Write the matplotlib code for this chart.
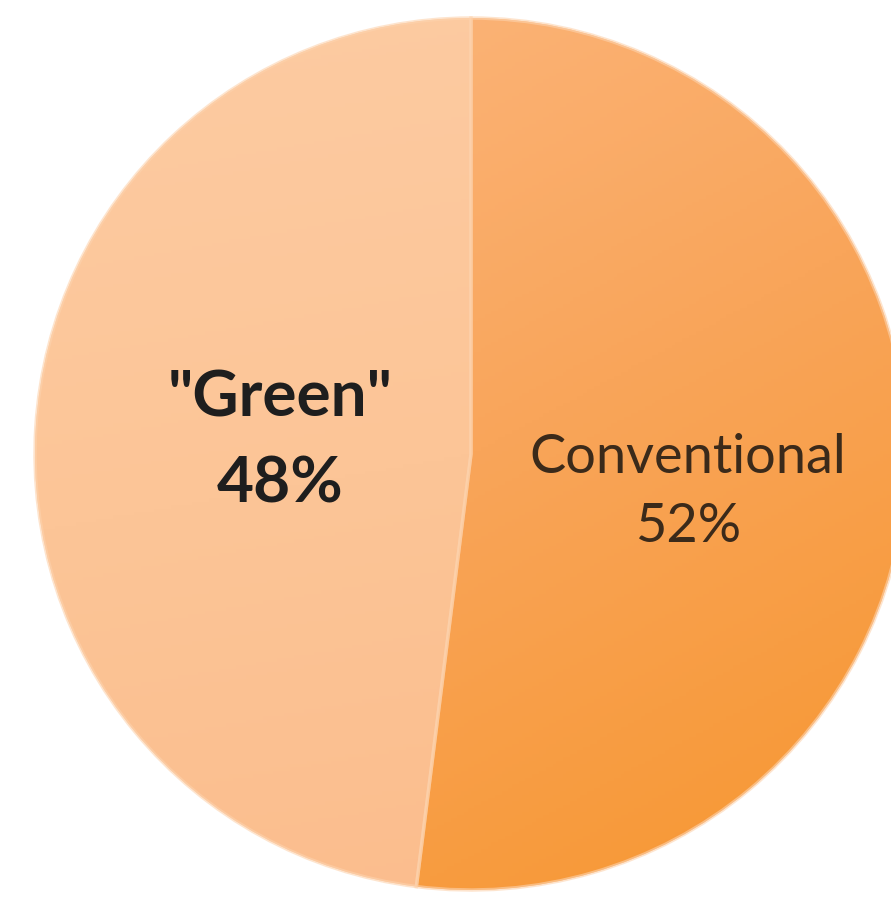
import numpy as np
import matplotlib
matplotlib.use("Agg")
import matplotlib.pyplot as plt
from matplotlib.colors import LinearSegmentedColormap

# Share of projects
categories = ["Conventional", '"Green"']
shares = [52, 48]
label_weights = ["normal", "bold"]

W, H = 891, 902
fig = plt.figure(figsize=(W / 100, H / 100), dpi=100)
ax = fig.add_axes([0, 0, 1, 1])

cx, cy, r = 471, 448, 436

wedges, _ = ax.pie(shares, startangle=90, counterclock=False,
                   colors=["#F9A862", "#FCC69A"], radius=r, center=(cx, cy),
                   frame=True, wedgeprops=dict(linewidth=0))

# Soft vertical shading inside each slice
gradients = [
    LinearSegmentedColormap.from_list("conv", ["#F7962F", "#F9A55A", "#FCB983"]),
    LinearSegmentedColormap.from_list("green", ["#FBBC8C", "#FCC597", "#FCCBA2"]),
]
yy = np.linspace(0, 1, 256).reshape(-1, 1) * np.ones((1, 256))
xx = np.ones((256, 1)) * np.linspace(0, 1, 256).reshape(1, -1)
for w, cmap, mix in zip(wedges, gradients, [0.35, 0.15]):
    field = (1 - mix) * yy + mix * (1 - xx)
    im = ax.imshow(field, cmap=cmap, origin="lower",
                   extent=(cx - r, cx + r, cy - r, cy + r), zorder=w.get_zorder())
    im.set_clip_path(w)

# Light seam between the slices
ax.pie(shares, startangle=90, counterclock=False, radius=r, center=(cx, cy),
       colors=["none", "none"], frame=True,
       wedgeprops=dict(linewidth=2.5, edgecolor="#FDD3AE", alpha=0.6))

ax.set_xlim(0, W)
ax.set_ylim(0, H)
ax.set_aspect("equal")
ax.axis("off")

# Slice labels
label_pos = [(688, H - 492), (280, H - 441)]
label_colors = ["#3B2A1A", "#1E1E1E"]
label_sizes = [39, 46]
label_spacing = [1.5, 1.6]
for name, val, wt, (lx, ly), col, fs, ls in zip(categories, shares, label_weights,
                                                 label_pos, label_colors,
                                                 label_sizes, label_spacing):
    ax.text(lx, ly, f"{name}\n{val}%", ha="center", va="center",
            fontsize=fs, fontweight=wt,
            family=["Lato", "DejaVu Sans"], color=col, linespacing=ls,
            zorder=10)

fig.savefig("out.png", dpi=100, facecolor="white")
